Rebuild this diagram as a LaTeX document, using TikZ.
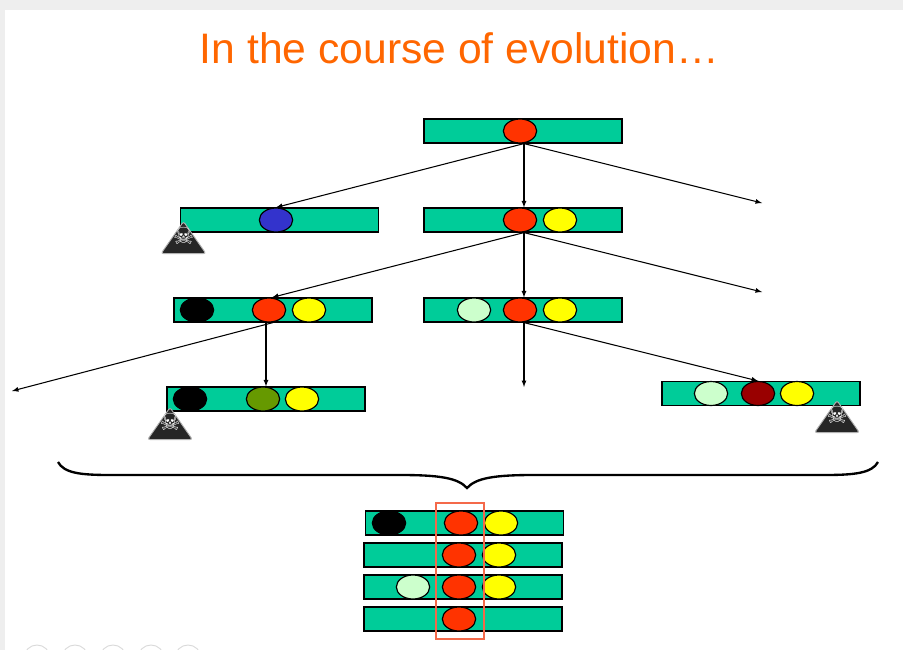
\documentclass[tikz,border=0pt]{standalone}
\usepackage{fontspec}
\setmainfont{Liberation Sans}
\newfontfamily\symbolfont{DejaVu Sans}
\usetikzlibrary{shapes.geometric}
\definecolor{barcol}{HTML}{00CC99}
\definecolor{genered}{HTML}{FF3300}
\definecolor{geneyellow}{HTML}{FFFF00}
\definecolor{geneblue}{HTML}{3333CC}
\definecolor{genepale}{HTML}{CCFFCC}
\definecolor{genegreen}{HTML}{669900}
\definecolor{genedark}{HTML}{990000}
\definecolor{titlecol}{HTML}{FF6600}
\definecolor{boxcol}{HTML}{F4694A}
\definecolor{chrome}{HTML}{EEEEEE}
\newcommand{\skullmark}{\makebox[0pt]{\smash{\raisebox{-0.08cm}{☠}}}}
\tikzset{
    bar/.style={rectangle,draw=black,fill=barcol,line width=1pt,minimum width=5.94cm,minimum height=0.72cm,inner sep=0pt},
    gene/.style={ellipse,draw=black,line width=1pt,minimum width=1cm,minimum height=0.72cm,inner sep=0pt},
    skull/.style={isosceles triangle,isosceles triangle apex angle=70,shape border rotate=90,draw=gray!60,fill=black!85,line width=0.8pt,rounded corners=2pt,minimum height=0.96cm,inner sep=0pt,text=white,font=\symbolfont\fontsize{20}{20}\selectfont},
    arrow/.style={->,>=latex,draw=black,line width=0.9pt}
}
\begin{document}
\begin{tikzpicture}[x=0.03cm,y=-0.03cm]
                \useasboundingbox (0,0) rectangle (903,650);
                \fill[chrome] (0,0) rectangle (903,10);
                \fill[chrome] (0,0) rectangle (5,650);
                \foreach \x in {37,75,113,151,188}
                    \draw[black!15,line width=0.8pt] (\x,658) circle (0.39cm);
                \node[text=titlecol,font=\fontsize{36.4}{44}\selectfont] (title) at (459.5,48) {In the course of evolution…};
                \begin{scope}
                    \node[bar] (R) at (523,131) {};
                    \node[bar] (A1) at (279.5,220) {};
                    \node[bar] (A2) at (523,220) {};
                    \node[bar] (B1) at (273,310) {};
                    \node[bar] (B2) at (523,310) {};
                    \node[bar] (C1) at (266,399) {};
                    \node[bar] (C2) at (761,393.5) {};
                    \node[bar] (F1) at (464.5,523) {};
                    \node[bar] (F2) at (463,555) {};
                    \node[bar] (F3) at (463,587) {};
                    \node[bar] (F4) at (463,619) {};
                \end{scope}
                \begin{scope}
                    \node[gene,fill=genered] (Rr) at (520,131) {};
                    \node[gene,fill=geneblue] (A1b) at (276,220) {};
                    \node[gene,fill=genered] (A2r) at (520,220) {};
                    \node[gene,fill=geneyellow] (A2y) at (560,220) {};
                    \node[gene,fill=black] (B1k) at (197,310) {};
                    \node[gene,fill=genered] (B1r) at (269,310) {};
                    \node[gene,fill=geneyellow] (B1y) at (309,310) {};
                    \node[gene,fill=genepale] (B2p) at (474,310) {};
                    \node[gene,fill=genered] (B2r) at (520,310) {};
                    \node[gene,fill=geneyellow] (B2y) at (560,310) {};
                    \node[gene,fill=black] (C1k) at (190,399) {};
                    \node[gene,fill=genegreen] (C1g) at (263,399) {};
                    \node[gene,fill=geneyellow] (C1y) at (302,399) {};
                    \node[gene,fill=genepale] (C2p) at (711,393.5) {};
                    \node[gene,fill=genedark] (C2d) at (758,393.5) {};
                    \node[gene,fill=geneyellow] (C2y) at (797,393.5) {};
                    \node[gene,fill=black] (F1k) at (389,523) {};
                    \node[gene,fill=genered] (F1r) at (461,523) {};
                    \node[gene,fill=geneyellow] (F1y) at (501,523) {};
                    \node[gene,fill=genered] (F2r) at (459,555) {};
                    \node[gene,fill=geneyellow] (F2y) at (499,555) {};
                    \node[gene,fill=genepale] (F3p) at (413,587) {};
                    \node[gene,fill=genered] (F3r) at (459,587) {};
                    \node[gene,fill=geneyellow] (F3y) at (499,587) {};
                    \node[gene,fill=genered] (F4r) at (459,619) {};
                \end{scope}
                \node[skull,anchor=lower side] (S1) at (183.5,254) {\skullmark};
                \node[skull,anchor=lower side] (S2) at (170,440) {\skullmark};
                \node[skull,anchor=lower side] (S3) at (837,433) {\skullmark};
                \coordinate (E1) at (762,203);
                \coordinate (E2) at (762,292);
                \coordinate (E3) at (12,391);
                \coordinate (E4) at (524,387);
                \begin{scope}[every path/.style={arrow}]
                    \draw ([xshift=0.03cm]R.south) -- (A1b.north);
                    \draw ([xshift=0.03cm]R.south) -- ([xshift=0.03cm]A2.north);
                    \draw ([xshift=0.03cm]R.south) -- (E1);
                    \draw ([xshift=0.03cm]A2.south) -- ([xshift=0.09cm]B1r.north);
                    \draw ([xshift=0.03cm]A2.south) -- ([xshift=0.03cm]B2.north);
                    \draw ([xshift=0.03cm]A2.south) -- (E2);
                    \draw (B1.south) -- (E3);
                    \draw ([xshift=-0.09cm]B1r.south) -- ([xshift=0.09cm]C1g.north);
                    \draw ([xshift=0.03cm]B2.south) -- (E4);
                    \draw ([xshift=0.03cm]B2.south) -- (C2d.north);
                \end{scope}
                \coordinate (BL) at (58,462);
                \coordinate (BR) at (878,462);
                \coordinate (BT) at (467,488);
                \draw[line width=2pt] (BL) .. controls (64,473) and (80,475) .. (110,475) -- (400,475) .. controls (440,475) and (458,478) .. (BT) .. controls (476,478) and (494,475) .. (534,475) -- (825,475) .. controls (855,475) and (872,473) .. (BR);
                \node[draw=boxcol,line width=0.9pt,minimum width=1.44cm,minimum height=4.08cm,inner sep=0pt] (box) at (460,571) {};
            \end{tikzpicture}
\end{document}
